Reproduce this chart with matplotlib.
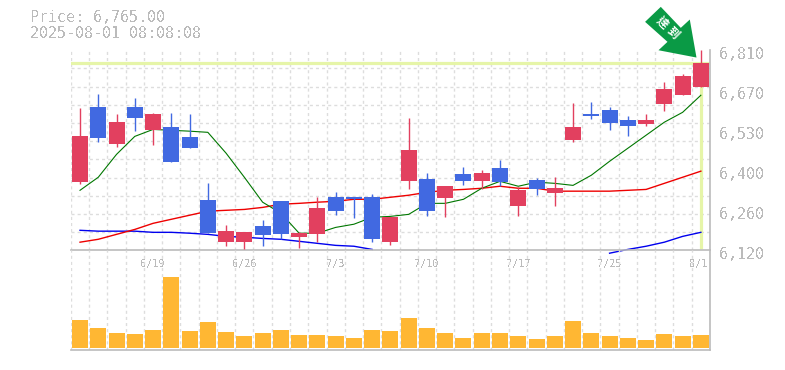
import numpy as np
import matplotlib
matplotlib.use("Agg")
import matplotlib.pyplot as plt
from matplotlib.patches import Polygon
from matplotlib.transforms import Affine2D, ScaledTranslation

plt.rcParams['font.family'] = ['DejaVu Sans Mono', 'Noto Sans CJK TC']
plt.rcParams['text.antialiased'] = False

timestamp = "2025-08-01 08:08:08"
callout = "達到"
price_ticks = [6120, 6258, 6396, 6534, 6672, 6810]
price_tick_labels = ["6,120", "6,260", "6,400", "6,530", "6,670", "6,810"]
date_positions = [4, 9, 14, 19, 24, 29, 34]
date_labels = ["6/19", "6/26", "7/3", "7/10", "7/17", "7/25", "8/1"]

opens = [6355, 6613, 6486, 6613, 6534, 6544, 6510, 6293, 6148, 6148, 6203, 6289,
         6165, 6175, 6303, 6303, 6303, 6148, 6358, 6365, 6299, 6382, 6358, 6403,
         6272, 6362, 6317, 6500, 6589, 6603, 6569, 6555, 6624, 6655, 6682]
closes = [6513, 6506, 6562, 6575, 6589, 6424, 6472, 6179, 6186, 6182, 6172, 6175,
          6179, 6265, 6255, 6296, 6158, 6234, 6465, 6255, 6341, 6358, 6386, 6355,
          6327, 6330, 6334, 6544, 6582, 6558, 6548, 6569, 6675, 6720, 6765]
highs = [6610, 6658, 6589, 6644, 6593, 6593, 6589, 6351, 6206, 6182, 6224, 6289,
         6182, 6303, 6320, 6303, 6313, 6234, 6575, 6386, 6341, 6406, 6396, 6431,
         6337, 6368, 6372, 6627, 6631, 6613, 6582, 6589, 6700, 6727, 6810]
lows = [6348, 6493, 6475, 6531, 6482, 6424, 6472, 6179, 6134, 6123, 6134, 6158,
        6127, 6148, 6241, 6230, 6148, 6137, 6330, 6237, 6234, 6344, 6330, 6341,
        6237, 6310, 6272, 6493, 6572, 6534, 6513, 6548, 6600, 6655, 6682]
ma_short = [6327, 6372, 6451, 6513, 6537, 6534, 6531, 6527, 6455, 6372, 6286, 6248,
            6179, 6179, 6199, 6210, 6234, 6237, 6244, 6282, 6282, 6296, 6334, 6358,
            6341, 6355, 6351, 6344, 6379, 6427, 6472, 6517, 6562, 6596, 6655]
ma_mid = [6148, 6158, 6175, 6192, 6213, 6227, 6241, 6255, 6258, 6261, 6268, 6279,
          6282, 6286, 6289, 6296, 6296, 6303, 6310, 6320, 6327, 6330, 6334, 6341,
          6334, 6334, 6324, 6324, 6324, 6324, 6327, 6330, 6351, 6372, 6393]
ma_long = [6189, 6186, 6186, 6186, 6182, 6182, 6179, 6175, 6168, 6165, 6161, 6158,
           6151, 6144, 6137, 6134, 6123, None, None, None, None, None, None, None,
           None, None, None, None, None, 6110, 6123, 6134, 6148, 6168, 6182]
volumes = [28, 20, 15, 14, 18, 71, 17, 26, 16, 12, 15, 18, 13, 13, 12, 10, 18, 17,
           30, 20, 15, 10, 15, 15, 12, 9, 12, 27, 15, 12, 10, 8, 14, 12, 13]

RED, BLUE, AMBER = "#E2405F", "#4169E1", "#FFB733"
GRAY, GRID, BAND = "#BBBBBB", "#DDDDDD", "#E6F5A8"
W, H = 785, 370
L, R = 70.7, 710.0
T, M, B = 50.3, 250.3, 350.3

fig = plt.figure(figsize=(W / 100, H / 100), dpi=100)
ax = fig.add_axes([L / W, 1 - M / H, (R - L) / W, (M - T) / H])
vax = fig.add_axes([L / W, 1 - B / H, (R - L) / W, (B - M) / H])
vax.patch.set_alpha(0)

x = np.arange(len(closes))
dash = (0, (2.2, 2.2))
for a in (ax, vax):
    a.set_xlim(-0.51, 34.5)
    a.set_axisbelow(True)
    a.set_xticks(np.arange(-0.5, 34.6, 1), minor=True)
    a.grid(which='minor', axis='x', color=GRID, lw=1, ls=dash)
    a.tick_params(which='both', length=0)
    for s in ('top', 'left'):
        a.spines[s].set_visible(False)
    for s in ('right', 'bottom'):
        a.spines[s].set_color(GRAY)
        a.spines[s].set_linewidth(1.2)

ax.set_ylim(6120, 6810)
ax.set_yticks(np.linspace(6120, 6810, 12), minor=True)
ax.grid(which='minor', axis='y', color=GRID, lw=1, ls=dash)
ax.yaxis.tick_right()
ax.set_yticks(price_ticks, price_tick_labels, color=GRAY, fontsize=10.8)
ax.tick_params(axis='y', which='major', pad=6.3)
shift = ScaledTranslation(0, -3 / 72 * 0.72, fig.dpi_scale_trans)
for lab in ax.get_yticklabels():
    lab.set_transform(lab.get_transform() + shift)
ax.set_xticks(date_positions, date_labels, color=GRAY, fontsize=7.4)
ax.tick_params(axis='x', which='major', pad=6)
last = ax.get_xticklabels()[-1]
last.set_transform(last.get_transform() + ScaledTranslation(-2 / 100, 0, fig.dpi_scale_trans))

ax.axhline(closes[-1], color=BAND, lw=2.3, zorder=1.5)
ax.vlines(x[-1], 6123, closes[-1], color=BAND, lw=2.3, zorder=1.5)

long_arr = np.array([np.nan if v is None else v for v in ma_long], float)
ax.plot(x, long_arr, color="#0000EE", lw=1.0, zorder=2, clip_on=False)
ax.plot(x, ma_mid, color="#EE0000", lw=1.0, zorder=2)
ax.plot(x, ma_short, color="#007700", lw=0.8, zorder=2)

colors = [RED if c >= o else BLUE for o, c in zip(opens, closes)]
ax.vlines(x, lows, highs, colors=colors, lw=1.0, zorder=3, clip_on=False)
ax.bar(x, np.abs(np.subtract(closes, opens)), bottom=np.minimum(opens, closes),
       width=0.877, color=colors, zorder=4, linewidth=0)

vax.set_ylim(-2, 98)
vax.set_yticks([])
vax.set_xticks([])
vax.bar(x, volumes, width=0.877, color=AMBER, zorder=3, linewidth=0)

# call-out arrow anchored on the last candle
tip = ax.transData.transform((x[-1] - 0.24, closes[-1] + 20))
arrow = [(0, 0), (-6.7, 38), (-15.7, 29.7), (-35.7, 50.7), (-51.4, 35.7), (-29, 15.7), (-38, 7.3)]
tr = Affine2D().translate(*tip)
fig.add_artist(Polygon(arrow, closed=True, facecolor="#0A9A45", edgecolor='none',
                       transform=tr, zorder=10))
for ch, off in zip(callout, [(-34.5, 34.5), (-23.4, 24.5)]):
    cx, cy = tr.transform(off)
    fig.text(cx / W, cy / H, ch, color="white", fontsize=8.2, fontweight='bold',
             family=['Noto Sans CJK TC'], rotation=-45, ha='center', va='center',
             rotation_mode='anchor', zorder=11, antialiased=True)

fig.text(30 / W, 1 - 18 / H, f"Price: {closes[-1]:,.2f}", color=GRAY, fontsize=10.8, va='center')
fig.text(30 / W, 1 - 33 / H, timestamp, color=GRAY, fontsize=10.8, va='center')

fig.savefig("out.png", dpi=100)
